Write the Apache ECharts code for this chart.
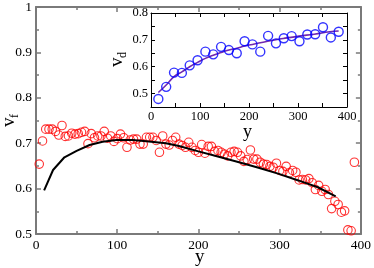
<!DOCTYPE html>
<html><head><meta charset="utf-8">
<script src="https://cdn.jsdelivr.net/npm/echarts@6/dist/echarts.min.js"></script>
<style>html,body{margin:0;padding:0;background:#fff}#c{width:374px;height:268px}</style>
</head><body><div id="c"></div>
<script>
// main scatter (v_f vs y)
const vfX = [4,8,12,16,20,24,28,32,36,40,44,48,52,56,60,64,68,72,76,80,84,88,92,96,100,104,108,112,116,120,124,128,132,136,140,144,148,152,156,160,164,168,172,176,180,184,188,192,196,200,204,208,212,216,220,224,228,232,236,240,244,248,252,256,260,264,268,272,276,280,284,288,292,296,300,304,308,312,316,320,324,328,332,336,340,344,348,352,356,360,364,368,372,376,380,384,388,392];
const vfY = [0.654,0.705,0.731,0.731,0.731,0.726,0.718,0.739,0.715,0.716,0.722,0.720,0.721,0.724,0.726,0.699,0.721,0.712,0.716,0.716,0.726,0.711,0.716,0.704,0.710,0.720,0.712,0.691,0.707,0.709,0.709,0.698,0.698,0.713,0.713,0.713,0.706,0.680,0.716,0.698,0.696,0.706,0.713,0.698,0.695,0.691,0.702,0.691,0.684,0.680,0.697,0.678,0.693,0.693,0.682,0.684,0.680,0.676,0.672,0.680,0.682,0.680,0.672,0.660,0.664,0.685,0.665,0.665,0.658,0.654,0.653,0.649,0.647,0.656,0.640,0.638,0.649,0.635,0.640,0.636,0.619,0.620,0.619,0.622,0.613,0.598,0.607,0.594,0.598,0.587,0.556,0.572,0.565,0.548,0.551,0.509,0.507,0.658];
// main black curve
const fitFX = [10,21,35,50,66,82,99,119,139,160,176,200,225,250,274,298,323,347,369];
const fitFY = [0.596,0.641,0.669,0.683,0.696,0.703,0.707,0.707,0.704,0.700,0.694,0.682,0.670,0.658,0.646,0.633,0.618,0.603,0.583];
// inset scatter (v_d vs y)
const vdX = [15,31,47,63,79,95,111,127,143,159,175,191,207,223,239,255,271,287,303,319,335,351,367,383];
const vdY = [0.48,0.525,0.578,0.577,0.605,0.624,0.656,0.646,0.674,0.662,0.65,0.695,0.683,0.656,0.715,0.687,0.706,0.714,0.695,0.72,0.721,0.747,0.709,0.73];
// inset purple curve
const fitDX = [15,31,47,63,79,95,111,127,143,159,175,191,207,238,270,302,333,365,383];
const fitDY = [0.504,0.532,0.563,0.581,0.600,0.616,0.631,0.643,0.653,0.662,0.669,0.677,0.683,0.695,0.705,0.714,0.721,0.730,0.733];

const FONT = 'Liberation Serif';
const gray = '#7a7a7a';
const pair = (xs, ys) => xs.map((x, i) => [x, ys[i]]);

function mainAxis(pos, showLabel, isX) {
  return {
    gridIndex: 0, type: 'value', position: pos,
    min: isX ? 0 : 0.5, max: isX ? 400 : 1, interval: isX ? 100 : 0.1,
    splitLine: {show: false},
    axisLine: {show: true, onZero: false, lineStyle: {color: gray, width: 2}},
    axisTick: {show: true, inside: true, length: 5, lineStyle: {color: gray, width: 1.5}},
    minorTick: {show: true, splitNumber: 2, length: 3, lineStyle: {color: gray, width: 1.5}},
    axisLabel: {show: showLabel, color: '#000', fontFamily: FONT, fontSize: 13.5, margin: 4,
      formatter: isX ? (v => String(v)) : (v => (v === 1 ? '1' : v.toFixed(1)))}
  };
}
function insetAxis(pos, showLabel, isX) {
  return {
    gridIndex: 1, type: 'value', position: pos,
    min: isX ? 0 : 0.45, max: isX ? 400 : 0.8, interval: isX ? 50 : 0.05,
    splitLine: {show: false},
    axisLine: {show: true, onZero: false, lineStyle: {color: '#000', width: 1}},
    axisTick: {show: true, inside: true, length: 4, lineStyle: {color: '#000', width: 1}},
    axisLabel: {show: showLabel, color: '#000', fontFamily: FONT, fontSize: 12.5, margin: 3,
      showMinLabel: true, showMaxLabel: true,
      formatter: isX ? (v => (Math.round(v) % 100 === 0 ? String(Math.round(v)) : ''))
                     : (v => (Math.abs(Math.round(v * 10) - v * 10) < 1e-6 ? v.toFixed(1) : ''))}
  };
}

const xA = [mainAxis('bottom', true, true), mainAxis('top', false, true), insetAxis('bottom', true, true), insetAxis('top', false, true)];
const yA = [mainAxis('left', true, false), mainAxis('right', false, false), insetAxis('left', true, false), insetAxis('right', false, false)];

const chart = echarts.init(document.getElementById('c'), null, {renderer: 'canvas'});
chart.setOption({
  animation: false,
  backgroundColor: '#fff',
  grid: [
    {left: 36, right: 11, top: 5, bottom: 34, containLabel: false},
    {left: 151, right: 27, top: 13, bottom: 161, containLabel: false, show: true, backgroundColor: '#fff', borderWidth: 0}
  ],
  xAxis: xA,
  yAxis: yA,
  graphic: [
    {type: 'text', left: 195, top: 248, style: {text: 'y', font: '19px "Liberation Serif"', fill: '#000'}, z: 10},
    {type: 'text', left: 243, top: 123, style: {text: 'y', font: '18px "Liberation Serif"', fill: '#000'}, z: 10},
    {type: 'group', x: 10, y: 121, rotation: Math.PI / 2, z: 10, children: [
      {type: 'text', x: -6, y: -10, style: {text: 'v', font: '19px "Liberation Serif"', fill: '#000'}},
      {type: 'text', x: 3, y: -1, style: {text: 'f', font: '12px "Liberation Serif"', fill: '#000'}}
    ]},
    {type: 'group', x: 118, y: 61, rotation: Math.PI / 2, z: 10, children: [
      {type: 'text', x: -6, y: -10, style: {text: 'v', font: '19px "Liberation Serif"', fill: '#000'}},
      {type: 'text', x: 3, y: -1, style: {text: 'd', font: '12px "Liberation Serif"', fill: '#000'}}
    ]}
  ],
  series: [
    {type: 'scatter', xAxisIndex: 0, yAxisIndex: 0, data: pair(vfX, vfY), symbol: 'circle', symbolSize: 8.5,
      itemStyle: {color: 'rgba(0,0,0,0)', borderColor: '#ff0000', borderWidth: 1.1}, z: 3},
    {type: 'line', xAxisIndex: 0, yAxisIndex: 0, data: pair(fitFX, fitFY), showSymbol: false, smooth: false,
      lineStyle: {color: '#000', width: 2}, z: 4},
    {type: 'scatter', xAxisIndex: 2, yAxisIndex: 2, data: pair(vdX, vdY), symbol: 'circle', symbolSize: 9,
      itemStyle: {color: 'rgba(0,0,0,0)', borderColor: '#0000ff', borderWidth: 1.4}, z: 6},
    {type: 'line', xAxisIndex: 2, yAxisIndex: 2, data: pair(fitDX, fitDY), showSymbol: false, smooth: true,
      lineStyle: {color: '#7028b0', width: 1.6}, z: 5}
  ]
});
</script></body></html>
